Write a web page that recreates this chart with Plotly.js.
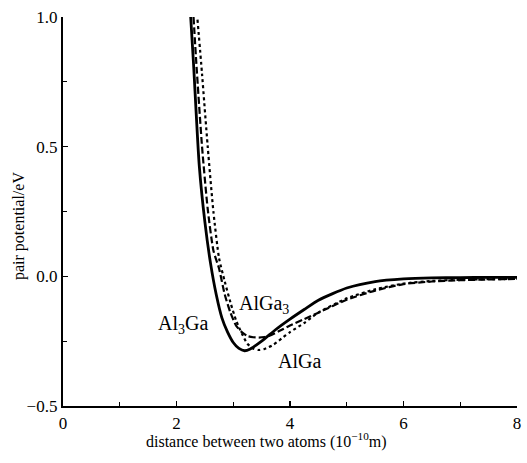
<!DOCTYPE html>
<html>
<head>
<meta charset="utf-8">
<script src="https://cdn.plot.ly/plotly-3.0.1.min.js"></script>
<style>html,body{margin:0;padding:0;background:#fff;}#chart{width:527px;height:463px;}</style>
</head>
<body>
<div id="chart"></div>
<script>
// Al3Ga (solid)
const xAl3Ga = [2.25, 2.3, 2.4, 2.5, 2.6, 2.7, 2.8, 2.9, 3.0, 3.1, 3.2, 3.3, 3.5, 3.75, 4.0, 4.25, 4.5, 5.0, 5.5, 6.0, 6.5, 7.0, 7.5, 8.0];
const yAl3Ga = [1.0, 0.82, 0.43, 0.21, 0.05, -0.07, -0.16, -0.215, -0.255, -0.278, -0.287, -0.28, -0.25, -0.205, -0.165, -0.128, -0.092, -0.045, -0.02, -0.01, -0.006, -0.005, -0.004, -0.004];
// AlGa3 (dashed)
const xAlGa3 = [2.3, 2.35, 2.45, 2.55, 2.65, 2.75, 2.85, 2.95, 3.05, 3.15, 3.25, 3.35, 3.45, 3.55, 3.65, 3.8, 4.0, 4.25, 4.5, 5.0, 5.5, 6.0, 6.5, 7.0, 7.5, 8.0];
const yAlGa3 = [1.0, 0.82, 0.5, 0.26, 0.1, 0.03, -0.07, -0.14, -0.19, -0.215, -0.23, -0.235, -0.236, -0.234, -0.228, -0.212, -0.19, -0.165, -0.14, -0.09, -0.055, -0.03, -0.02, -0.015, -0.012, -0.01];
// AlGa (dotted)
const xAlGa = [2.37, 2.45, 2.55, 2.65, 2.75, 2.85, 2.95, 3.05, 3.15, 3.25, 3.35, 3.45, 3.55, 3.7, 3.85, 4.0, 4.25, 4.5, 5.0, 5.5, 6.0, 6.5, 7.0, 7.5, 8.0];
const yAlGa = [0.99, 0.78, 0.5, 0.25, 0.07, -0.02, -0.10, -0.17, -0.22, -0.26, -0.278, -0.284, -0.28, -0.265, -0.24, -0.215, -0.18, -0.14, -0.085, -0.05, -0.028, -0.018, -0.013, -0.011, -0.01];

const xTicks = [0, 2, 4, 6, 8];
const yTicks = [-0.5, 0.0, 0.5, 1.0];
const yTickText = ['\u22120.5', '0.0', '0.5', '1.0'];

const serif = 'Liberation Serif, Times New Roman, serif';

const traces = [
  {x: xAl3Ga, y: yAl3Ga, mode: 'lines', line: {color: '#000', width: 2.8, shape: 'spline', smoothing: 0.6}, name: 'Al3Ga'},
  {x: xAlGa3, y: yAlGa3, mode: 'lines', line: {color: '#000', width: 2.2, dash: '7px,3px', shape: 'spline', smoothing: 0.6}, name: 'AlGa3'},
  {x: xAlGa, y: yAlGa, mode: 'lines', line: {color: '#000', width: 2.2, dash: 'dot', shape: 'spline', smoothing: 0.6}, name: 'AlGa'}
];

const layout = {
  width: 527, height: 463,
  margin: {l: 63, r: 10, t: 17, b: 57},
  paper_bgcolor: '#fff', plot_bgcolor: '#fff',
  showlegend: false,
  font: {family: serif, size: 17, color: '#000'},
  xaxis: {
    range: [0, 8], tickvals: xTicks, ticktext: xTicks.map(String),
    showgrid: false, zeroline: false, showline: true, linecolor: '#000', linewidth: 2.2,
    ticks: 'inside', ticklen: 5, tickwidth: 1.5, tickcolor: '#000',
    minor: {dtick: 1, tick0: 0, ticks: 'inside', ticklen: 4, tickwidth: 1, tickcolor: '#000'},
    tickfont: {family: serif, size: 17}, fixedrange: true
  },
  yaxis: {
    range: [-0.5, 1.0], tickvals: yTicks, ticktext: yTickText,
    showgrid: false, zeroline: false, showline: true, linecolor: '#000', linewidth: 2.2,
    ticks: 'inside', ticklen: 5, tickwidth: 1.5, tickcolor: '#000',
    minor: {dtick: 0.25, tick0: 0, ticks: 'inside', ticklen: 4, tickwidth: 1, tickcolor: '#000'},
    tickfont: {family: serif, size: 17}, fixedrange: true
  },
  annotations: [
    {x: 2.12, y: -0.185, xref: 'x', yref: 'y', text: 'Al<sub>3</sub>Ga', showarrow: false, font: {family: serif, size: 20}},
    {x: 3.55, y: -0.11, xref: 'x', yref: 'y', text: 'AlGa<sub>3</sub>', showarrow: false, font: {family: serif, size: 20}},
    {x: 4.17, y: -0.325, xref: 'x', yref: 'y', text: 'AlGa', showarrow: false, font: {family: serif, size: 20}},
    {text: 'distance between two atoms (10<sup>\u221210</sup>m)', showarrow: false, font: {family: serif, size: 16}},
    {text: 'pair potential/eV', textangle: -90, showarrow: false, font: {family: serif, size: 16}}
  ]
};

// convert pixel-placed titles into paper coordinates
const plotW = 527 - 63 - 10, plotH = 463 - 17 - 57;
Object.assign(layout.annotations[3], {xref: 'paper', yref: 'paper',
  x: (266 - 63) / plotW, y: (463 - 57 - 440) / plotH, xanchor: 'center', yanchor: 'middle'});
Object.assign(layout.annotations[4], {xref: 'paper', yref: 'paper',
  x: (19 - 63) / plotW, y: (463 - 57 - 226) / plotH, xanchor: 'center', yanchor: 'middle'});

Plotly.newPlot('chart', traces, layout, {staticPlot: true, displayModeBar: false});
</script>
</body>
</html>
